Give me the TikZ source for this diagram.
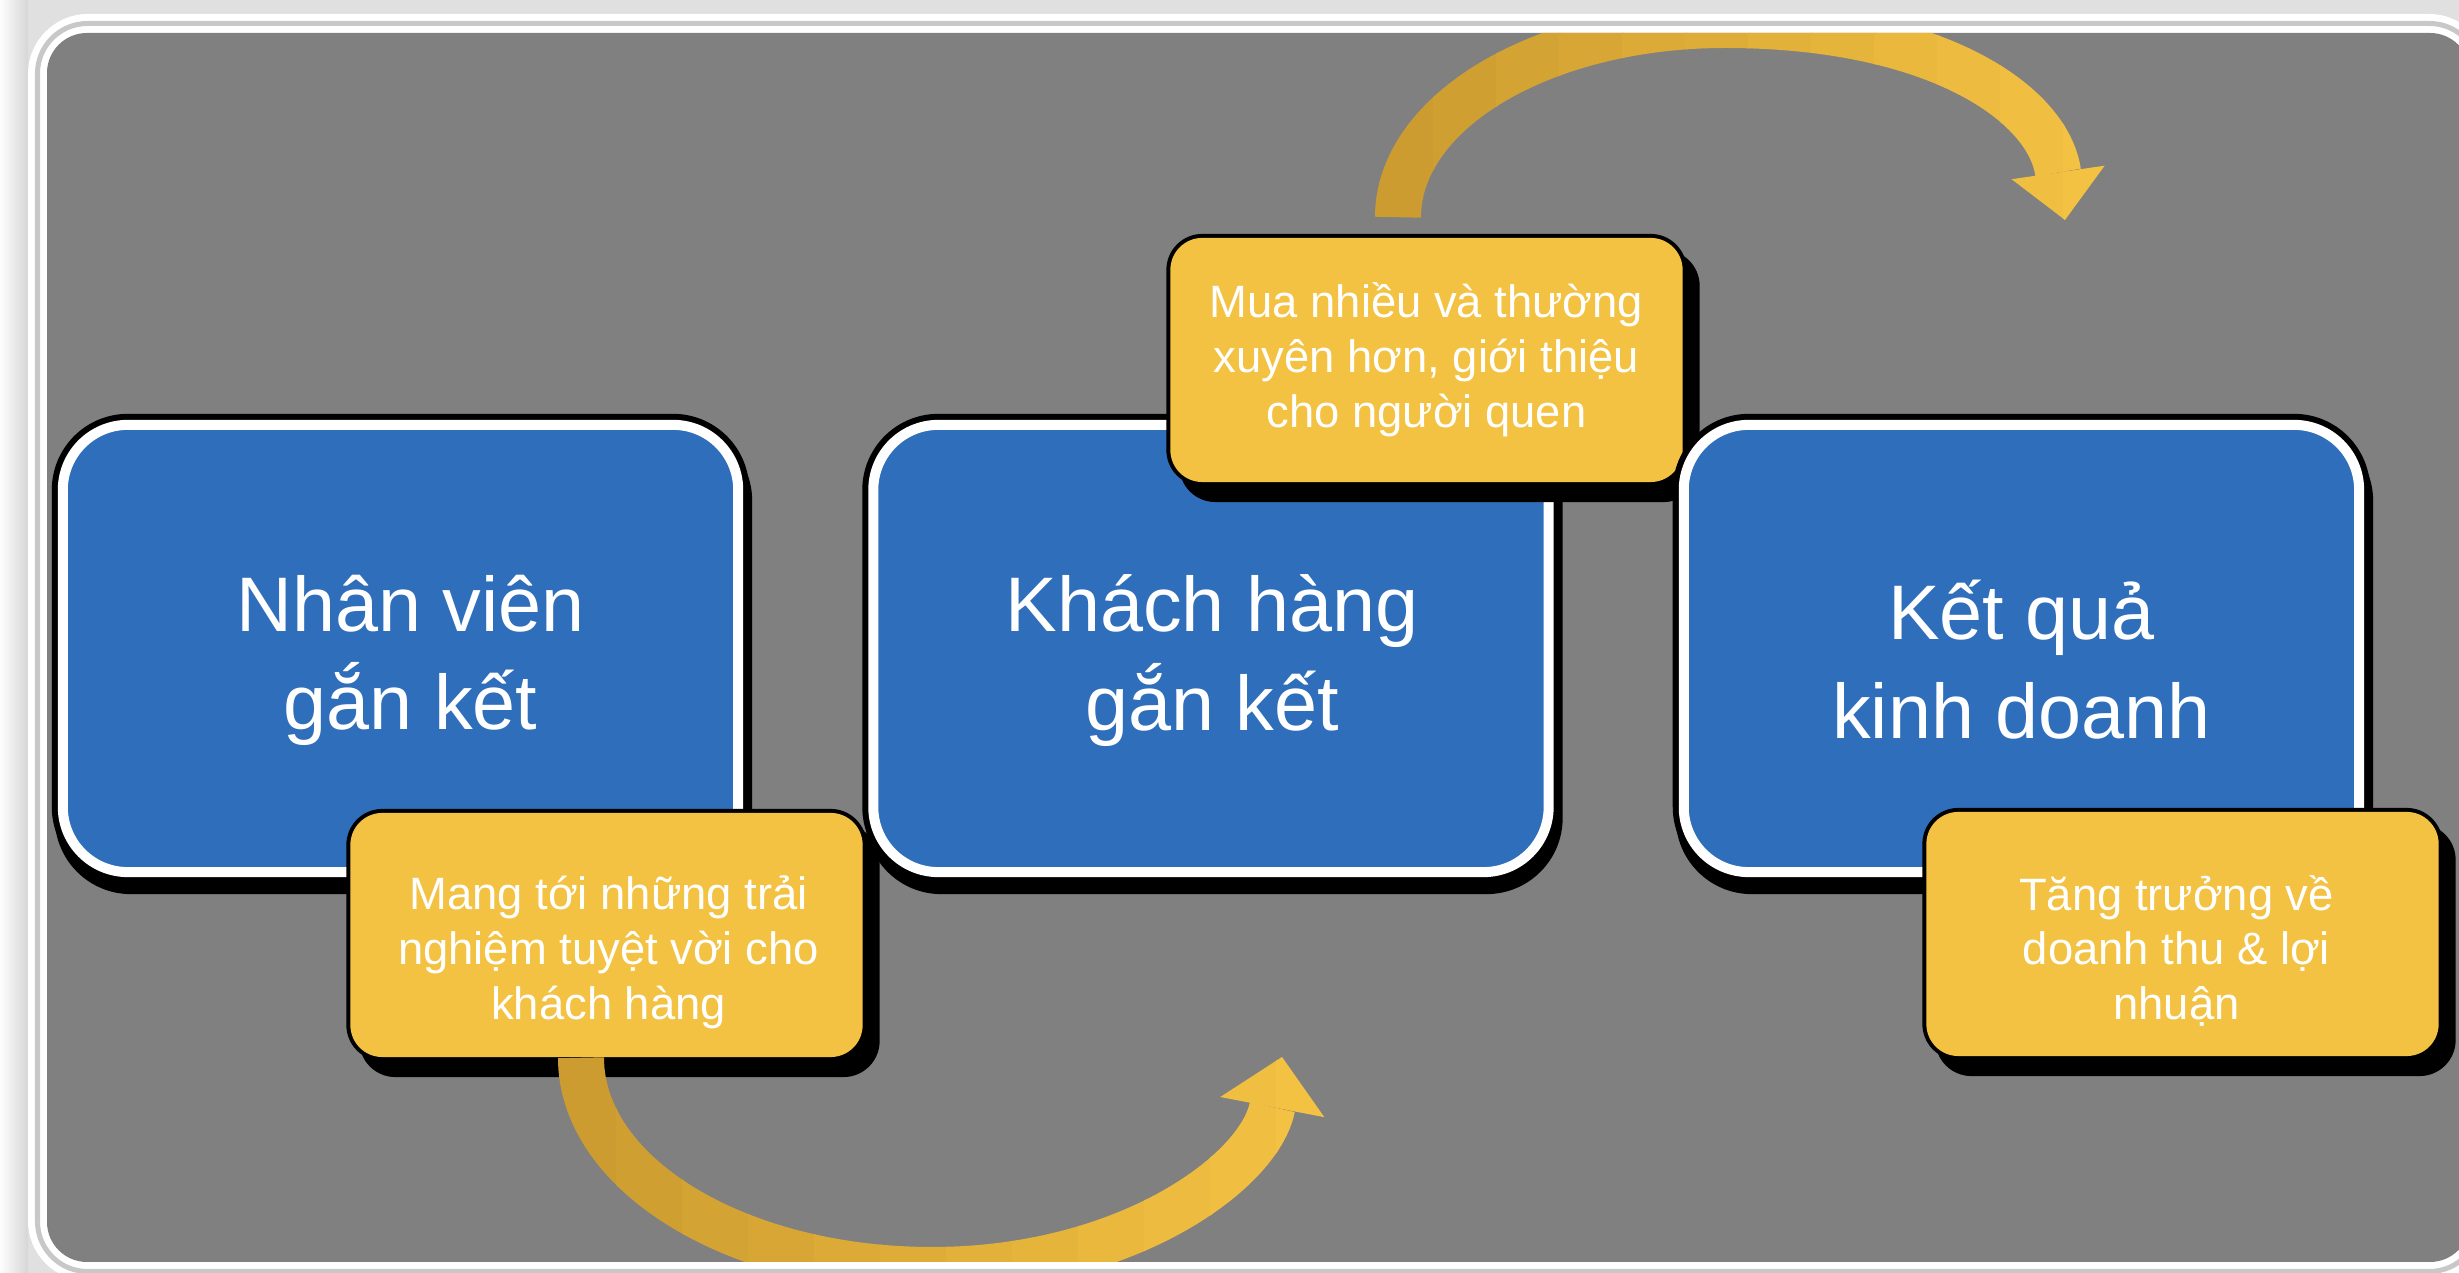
\documentclass[tikz,border=0pt]{standalone}
\usepackage{fontspec}
\setmainfont{Liberation Sans}
\usetikzlibrary{arrows.meta,positioning}
\definecolor{panel}{RGB}{128,128,128}
\definecolor{framegray}{RGB}{200,200,200}
\definecolor{outergray}{RGB}{224,224,224}
\definecolor{boxblue}{RGB}{47,110,186}
\definecolor{boxgold}{RGB}{244,194,66}
\definecolor{golddark}{RGB}{204,156,48}
\definecolor{goldlight}{RGB}{244,194,66}

\begin{document}
\begin{tikzpicture}[x=0.01cm, y=0.01cm, line join=round,
    stage/.style={rectangle, rounded corners=0.65cm, fill=boxblue, draw=white,
      line width=0.1cm, minimum width=6.75cm, minimum height=4.47cm,
      preaction={draw=black, line width=0.22cm},
      preaction={draw=black, fill=black, line width=0.22cm,
        transform canvas={shift={(3,-11)}}}},
    stagetext/.style={align=center, text=white, inner sep=0pt,
      font=\fontsize{22}{28}\selectfont},
    note/.style={rectangle, rounded corners=0.32cm, fill=boxgold,
      minimum width=5.12cm, minimum height=2.44cm, inner sep=0pt,
      preaction={draw=black, line width=0.08cm},
      preaction={draw=black, fill=black, line width=0.08cm,
        transform canvas={shift={(13,-16)}}}},
    notetext/.style={align=center, text=white, inner sep=0pt,
      font=\fontsize{12.9}{15.6}\selectfont},
    flow/.style={line width=0.46cm}]
    \useasboundingbox (0,0) rectangle (2459,1273);
    % page, frame and grey panel
    \fill[outergray] (0,0) rectangle (2459,1273);
    \shade[left color=white!95!outergray, right color=black!16] (0,0) rectangle (28,1273);
    \fill[white, rounded corners=0.6cm] (28,-8) rectangle (2489,1259);
    \draw[framegray, line width=0.05cm, rounded corners=0.5cm] (37.5,1.5) rectangle (2479.5,1249.5);
    \fill[panel, rounded corners=0.4cm] (47,11) rectangle (2470,1240);

    % stages and their notes, left to right
    \node[stage] (emp) at (400.5,624.5) {};
    \node[stagetext] (empText) at ([shift={(10,-12)}]emp.center) {Nhân viên\\gắn kết};
    \node[note] (exp) at (606.5,338) {};
    \node[notetext] (expText) at ([shift={(2,-17)}]exp.center) {Mang tới những trải\\nghiệm tuyệt vời cho\\khách hàng};
    \node[stage, right=1.25cm of emp] (cust) {};
    \node[stagetext] (custText) at ([shift={(1,-12)}]cust.center) {Khách hàng\\gắn kết};
    \node[note] (buy) at (1426.5,913) {};
    \node[notetext] (buyText) at (buy.center) {Mua nhiều và thường\\xuyên hơn, giới thiệu\\cho người quen};
    \node[stage, right=1.25cm of cust] (biz) {};
    \node[stagetext] (bizText) at ([shift={(0,-11)}]biz.center) {Kết quả\\kinh doanh};
    \node[note] (grow) at (2182.5,339) {};
    \node[notetext] (growText) at ([shift={(-6,-17)}]grow.center) {Tăng trưởng về\\doanh thu \& lợi\\nhuận};

    % curved arrows, shaded dark to light in strips
    \coordinate (custTip) at (1282,216);
    \coordinate (bizTip) at (2065,1053);
    \begin{scope}
      \clip[rounded corners=0.4cm] (47,11) rectangle (2470,1240);
      \foreach \k in {0,...,11} {
        \pgfmathsetmacro{\goldmix}{100-\k*100/11}
        \begin{scope}
          \clip (550+\k*66,0) rectangle ++(68,1273);
          \draw[flow, golddark!\goldmix!goldlight, -{Triangle[length=0.51cm,width=1.06cm,line width=0pt]}]
            ([shift={(-25.5,0)}]exp.south) .. controls +(0,-117.6) and (738.2,3) .. (932,3)
            .. controls (1125.2,3) and (1259.6,100.5) .. (custTip);
        \end{scope}
        \begin{scope}
          \clip (1370+\k*63,0) rectangle ++(65,1273);
          \draw[flow, golddark!\goldmix!goldlight, -{Triangle[length=0.48cm,width=0.94cm,line width=0pt]}]
            ([shift={(-28.5,20)}]buy.north) .. controls +(0,106.5) and (1544.5,1248) .. (1725,1248)
            .. controls (1935,1248) and (2048,1170) .. (bizTip);
        \end{scope}
      }
    \end{scope}
\end{tikzpicture}
\end{document}
